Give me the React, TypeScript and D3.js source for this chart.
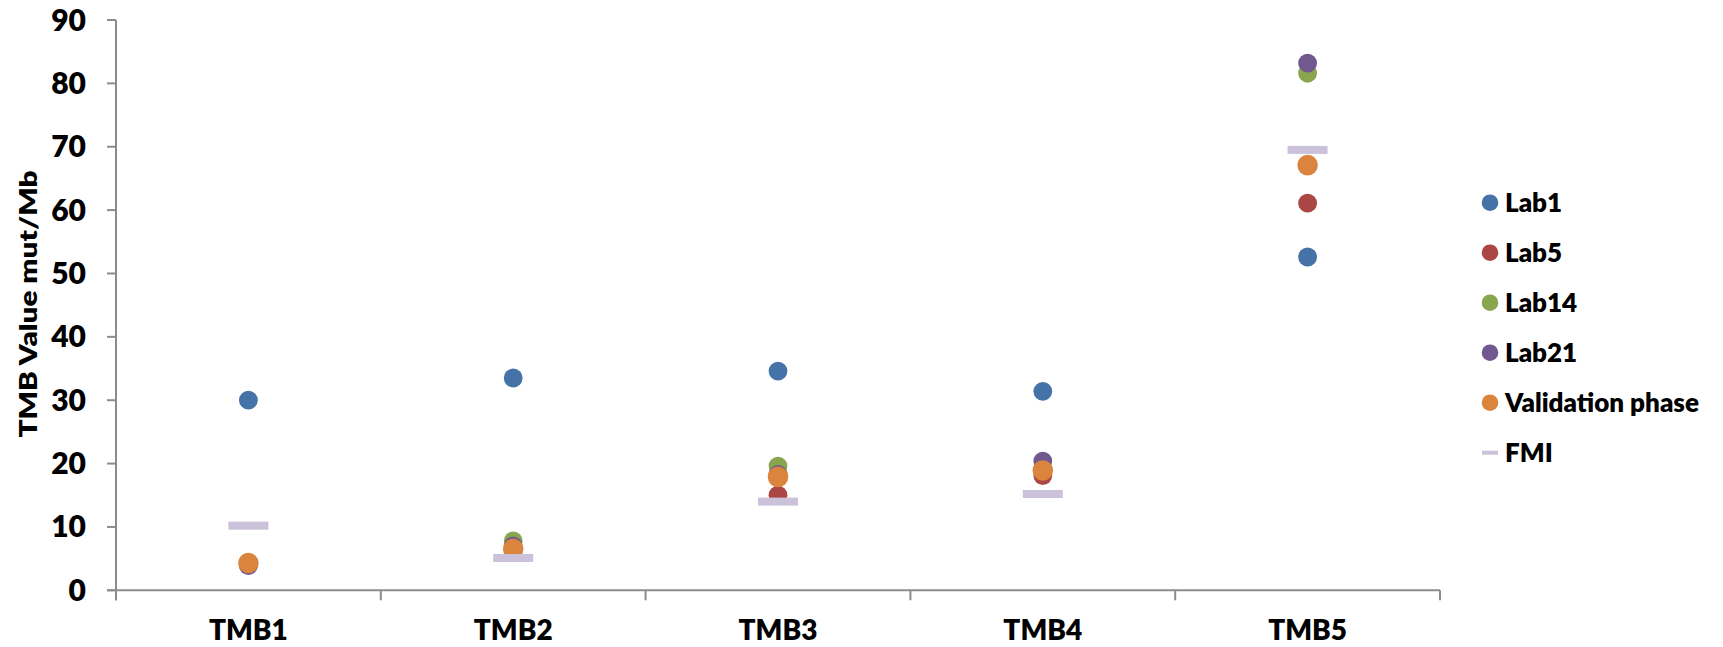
import React from "react";
import * as d3 from "d3";

const categories = ["TMB1", "TMB2", "TMB3", "TMB4", "TMB5"];
const lab1 = [30.0, 33.5, 34.6, 31.4, 52.6];
const lab5 = [4.0, 6.4, 15.0, 18.1, 61.1];
const lab14 = [4.2, 7.8, 19.6, 19.0, 81.6];
const lab21 = [3.9, 7.0, 18.3, 20.4, 83.2];
const validation = [4.3, 6.5, 17.9, 18.9, 67.1];
const fmi = [10.2, 5.1, 14.0, 15.2, 69.5];
const yTicks = [0, 10, 20, 30, 40, 50, 60, 70, 80, 90];

const series = [
  { name: "Lab1", values: lab1, color: "#4572A7", type: "dot" },
  { name: "Lab5", values: lab5, color: "#AA4643", type: "dot" },
  { name: "Lab14", values: lab14, color: "#89A54E", type: "dot" },
  { name: "Lab21", values: lab21, color: "#71588F", type: "dot" },
  { name: "Validation phase", values: validation, color: "#DB843D", type: "dot" },
  { name: "FMI", values: fmi, color: "#CCC1DA", type: "dash" },
];

const FONT = "Lato, 'Open Sans', 'DejaVu Sans', sans-serif";

export default function App() {
  const W = 1723;
  const H = 647;
  const x0 = 116;
  const x1 = 1440;
  const yTop = 20;
  const yBot = 590.3;

  const x = d3.scaleBand<string>().domain(categories).range([x0, x1]).padding(0);
  const y = d3.scaleLinear().domain([0, 90]).range([yBot, yTop]);
  const axisColor = "#8C8C8C";

  const boundaries = categories.map((c) => x(c) as number).concat([x1]);

  return (
    <svg
      width={W}
      height={H}
      style={{ position: "absolute", left: 0, top: 0, background: "#fff" }}
      fontFamily={FONT}
    >
      <rect x={0} y={0} width={W} height={H} fill="#fff" />
      {/* y axis */}
      <line x1={x0} x2={x0} y1={yTop} y2={yBot + 10} stroke={axisColor} strokeWidth={2} />
      {yTicks.map((t) => (
        <g key={t}>
          <line x1={x0 - 9} x2={x0} y1={y(t)} y2={y(t)} stroke={axisColor} strokeWidth={2} />
          <text
            x={86}
            y={y(t) + 10.5}
            textAnchor="end"
            fontSize={30}
            fontWeight={800}
            fill="#000"
          >
            {t}
          </text>
        </g>
      ))}
      {/* x axis */}
      <line x1={x0 - 9} x2={x1} y1={yBot} y2={yBot} stroke={axisColor} strokeWidth={2} />
      {boundaries.map((b, i) => (
        <line key={i} x1={b} x2={b} y1={yBot} y2={yBot + 10} stroke={axisColor} strokeWidth={2} />
      ))}
      {categories.map((c) => (
        <text
          key={c}
          x={(x(c) as number) + x.bandwidth() / 2}
          y={640}
          textAnchor="middle"
          fontSize={28}
          fontWeight={800}
          fill="#000"
        >
          {c}
        </text>
      ))}
      {/* y title */}
      <text
        transform={`translate(37,304) rotate(-90)`}
        textAnchor="middle"
        fontSize={25}
        fontWeight={800}
        fill="#000"
        textLength={267}
        lengthAdjust="spacingAndGlyphs"
      >
        TMB Value mut/Mb
      </text>
      {/* data */}
      {series.map((s) => (
        <g key={s.name}>
          {s.values.map((v, i) => {
            const cx = (x(categories[i]) as number) + x.bandwidth() / 2;
            const cy = y(v);
            if (s.type === "dash") {
              return <rect key={i} x={cx - 20} y={cy - 4} width={40} height={8} fill={s.color} />;
            }
            const r = s.name === "Validation phase" ? 10.3 : 9.4;
            return <circle key={i} cx={cx} cy={cy} r={r} fill={s.color} />;
          })}
        </g>
      ))}
      {/* legend */}
      {series.map((s, i) => {
        const cy = 202.7 + i * 50;
        return (
          <g key={s.name}>
            {s.type === "dash" ? (
              <rect x={1482} y={cy - 2} width={16} height={4} fill={s.color} />
            ) : (
              <circle cx={1490} cy={cy} r={8.3} fill={s.color} />
            )}
            <text x={1505} y={cy + 9} fontSize={26} fontWeight={800} fill="#000">
              {s.name}
            </text>
          </g>
        );
      })}
    </svg>
  );
}
